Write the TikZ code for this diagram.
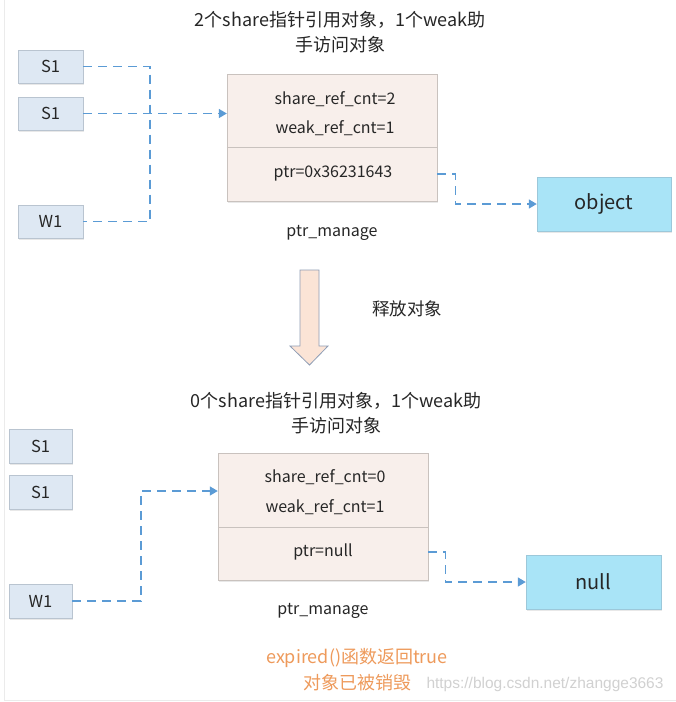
\documentclass[tikz,border=0pt]{standalone}
\usepackage{fontspec}
\setmainfont{Noto Sans CJK SC}
\newfontfamily\wmfont{Liberation Sans}
\usetikzlibrary{arrows.meta,shadows}
\definecolor{lnblue}{HTML}{5B9BD5}
\definecolor{smfill}{HTML}{DEE8F3}
\definecolor{smdraw}{HTML}{B9C4D0}
\definecolor{pmfill}{HTML}{F8EFEB}
\definecolor{pmdraw}{HTML}{C9C2BE}
\definecolor{objfill}{HTML}{A9E4F7}
\definecolor{objdraw}{HTML}{9CC8DA}
\definecolor{arrfill}{HTML}{FBE4D6}
\definecolor{arrdraw}{HTML}{8E9DB5}
\definecolor{orangetxt}{HTML}{EE9A5B}
\definecolor{txt}{HTML}{262626}
\tikzset{
  shd/.style={drop shadow={opacity=0.18,shadow xshift=1pt,shadow yshift=-1.5pt}},
  smbox/.style={draw=smdraw,fill=smfill,minimum width=65pt,minimum height=33pt,inner sep=0pt,shd,font=\fontsize{16.5}{18}\selectfont,text=txt},
  pmbox/.style={draw=pmdraw,fill=pmfill,minimum width=210pt,minimum height=127pt,inner sep=0pt,shd},
  objbox/.style={draw=objdraw,fill=objfill,minimum width=134pt,minimum height=54pt,inner sep=0pt,shd,font=\fontsize{20}{22}\selectfont,text=txt},
  celltxt/.style={font=\fontsize{16}{18}\selectfont,text=txt,inner sep=0pt},
  titletxt/.style={font=\fontsize{18}{25}\selectfont,text=txt,align=center,inner sep=0pt},
  conn/.style={draw=lnblue,line width=1.4pt,dash pattern=on 9pt off 6pt},
  tip/.style={-{Triangle[width=9pt,length=8pt]}}
}
\begin{document}
\begin{tikzpicture}[x=1pt,y=-1pt]
\useasboundingbox (0,0) rectangle (676,702);
\fill[white] (0,0) rectangle (676,702);
\draw[draw=black!8,line width=0.8pt] (4,-2) -- (4,700.5) -- (680,700.5);
% ---------- top ----------
\node[titletxt] (t1) at (340,32) {2个share指针引用对象，1个weak助\\手访问对象};
\node[smbox] (S1a) at (50.5,66.5) {S1};
\node[smbox] (S1b) at (50.5,113.5) {S1};
\node[smbox] (W1a) at (50.5,221.5) {W1};
\node[pmbox] (pm1) at (332,137.5) {};
\coordinate (d1) at (0,147);
\draw[pmdraw,line width=0.8pt] (pm1.west |- d1) -- (pm1.east |- d1);
\node[celltxt] (c1a) at (335,99) {share\_ref\_cnt=2};
\node[celltxt] (c1b) at (335,128) {weak\_ref\_cnt=1};
\node[celltxt] (c1c) at (333,174) {ptr=0x36231643};
\node[celltxt] (pml1) at (332,233) {ptr\_manage};
\node[objbox] (obj) at (604,204) {object};
\coordinate (j1) at (150,0);
\draw[conn] (S1a.east) -| (j1 |- W1a.east) -- (W1a.east);
\draw[conn,tip] (S1b.east) -- (S1b.east -| pm1.west);
\draw[conn,tip] (pm1.east |- c1c) -- ++(18,0) |- (obj.west);
% ---------- release arrow ----------
\draw[draw=arrdraw,fill=arrfill,line width=0.8pt]
  (300,270) -- (319,270) -- (319,346) -- (328,346) -- (309.5,365) -- (290,346) -- (300,346) -- cycle;
\node[celltxt,font=\fontsize{17.5}{20}\selectfont] (rel) at (407,309) {释放对象};
% ---------- bottom ----------
\node[titletxt] (t2) at (336,413) {0个share指针引用对象，1个weak助\\手访问对象};
\node[smbox,minimum width=63pt,minimum height=34pt] (S1c) at (40.5,446) {S1};
\node[smbox,minimum width=63pt,minimum height=34pt] (S1d) at (40.5,492.5) {S1};
\node[smbox,minimum width=63pt,minimum height=34pt] (W1b) at (40.5,601) {W1};
\node[pmbox] (pm2) at (323,516.5) {};
\coordinate (d2) at (0,527);
\draw[pmdraw,line width=0.8pt] (pm2.west |- d2) -- (pm2.east |- d2);
\node[celltxt] (c2a) at (325,477) {share\_ref\_cnt=0};
\node[celltxt] (c2b) at (325,507) {weak\_ref\_cnt=1};
\node[celltxt] (c2c) at (323,552) {ptr=null};
\node[celltxt] (pml2) at (323,611) {ptr\_manage};
\node[objbox,minimum width=135pt] (nul) at (593.5,582) {null};
\coordinate (j2) at (141,491);
\draw[conn,tip] (W1b.east) -| (j2) -- (j2 -| pm2.west);
\draw[conn,tip] (pm2.east |- c2c) -- ++(17,0) |- (nul.west);
\node[celltxt,text=orangetxt,align=center,font=\fontsize{18}{26}\selectfont] (exp) at (357,670) {expired()函数返回true\\对象已被销毁};
\node[inner sep=0pt,text=black!18,font=\wmfont\fontsize{15.5}{16}\selectfont] (wm) at (545,684) {https://blog.csdn.net/zhangge3663};
\end{tikzpicture}
\end{document}
